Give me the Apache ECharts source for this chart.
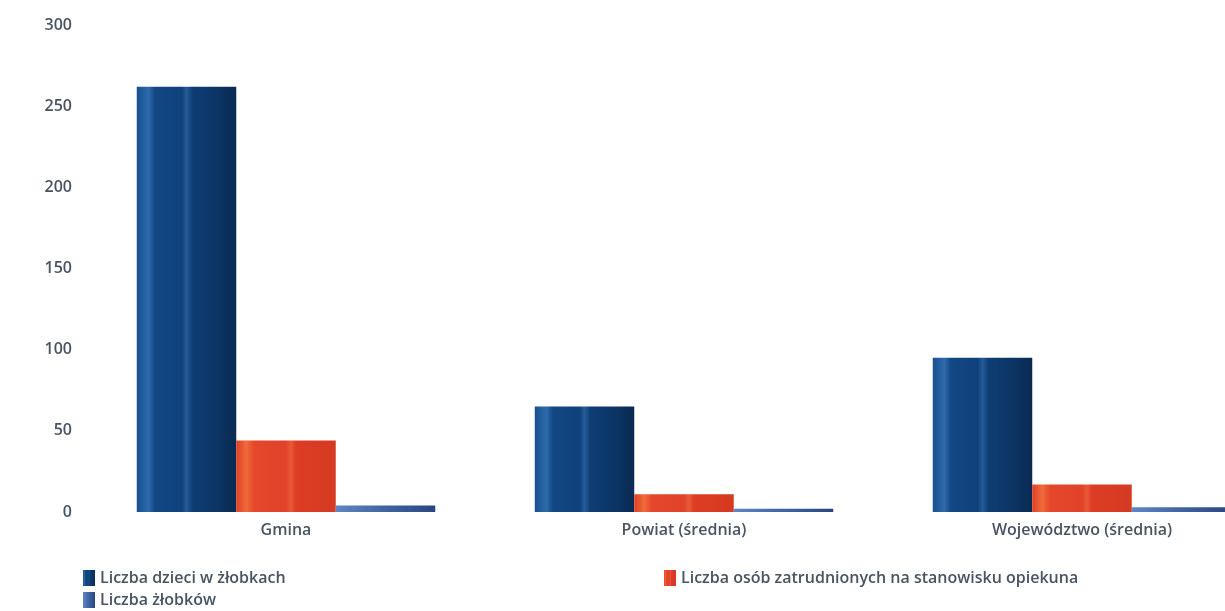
<!DOCTYPE html>
<html>
<head>
<meta charset="utf-8">
<script src="https://cdn.jsdelivr.net/npm/echarts@6/dist/echarts.min.js"></script>
<style>
  html, body { margin: 0; padding: 0; background: #fff; }
  #chart { width: 1225px; height: 611px; }
</style>
</head>
<body>
<div id="chart"></div>
<script>
const categories = ['Gmina', 'Powiat (średnia)', 'Województwo (średnia)']
const seriesNames = [
  'Liczba dzieci w żłobkach',
  'Liczba osób zatrudnionych na stanowisku opiekuna',
  'Liczba żłobków',
]
const childrenValues = [262, 65, 95]
const staffValues = [44, 11, 17]
const nurseryValues = [4, 2, 3]

const textColor = '#485462'
const fontFamily = '"Open Sans", Lato, sans-serif'
const fontWeight = 600

// vertical stripes to mimic the shaded bars
const stripes = (stops) =>
  new echarts.graphic.LinearGradient(0, 0, 1, 0, stops.map(([offset, color]) => ({ offset, color })))

const darkFill = stripes([
  [0, '#17508f'], [0.12, '#2f6aab'], [0.18, '#134884'], [0.45, '#0f417b'],
  [0.5, '#255b97'], [0.56, '#0e3d74'], [0.8, '#0c3565'], [1, '#0a2a52'],
])
const redFill = stripes([
  [0, '#de3f22'], [0.1, '#f06b3d'], [0.18, '#e4472a'], [0.5, '#e0432a'],
  [0.55, '#ea5a36'], [0.6, '#dc3d24'], [1, '#d63a22'],
])
const lightFill = stripes([
  [0, '#5f86c4'], [0.5, '#3f63a3'], [1, '#2a4682'],
])

const legendItem = (name, left, top) => ({
  data: [name],
  left,
  top,
  itemWidth: 12,
  itemHeight: 16,
  icon: 'rect',
  padding: 0,
  textStyle: { color: textColor, fontSize: 16, fontFamily, fontWeight },
})

const chart = echarts.init(document.getElementById('chart'))

const option = {
  animation: false,
  grid: {
    left: 87,
    top: 25,
    width: 1194,
    height: 487,
    outerBoundsMode: 'none',
    containLabel: false,
  },
  legend: [
    legendItem(seriesNames[0], 83, 570),
    legendItem(seriesNames[2], 83, 592),
    legendItem(seriesNames[1], 664, 570),
  ],
  xAxis: {
    type: 'category',
    data: categories,
    axisLine: { show: false },
    axisTick: { show: false },
    axisLabel: {
      color: textColor,
      fontSize: 16,
      fontFamily,
      fontWeight,
      margin: 10,
    },
  },
  yAxis: {
    type: 'value',
    min: 0,
    max: 300,
    interval: 50,
    splitLine: { show: false },
    axisLine: { show: false },
    axisTick: { show: false },
    axisLabel: {
      color: textColor,
      fontSize: 16,
      fontFamily,
      fontWeight,
      margin: 15,
    },
  },
  series: [
    {
      name: seriesNames[0],
      type: 'bar',
      data: childrenValues,
      barGap: '0%',
      barCategoryGap: '25%',
      itemStyle: { color: darkFill },
    },
    {
      name: seriesNames[1],
      type: 'bar',
      data: staffValues,
      itemStyle: { color: redFill },
    },
    {
      name: seriesNames[2],
      type: 'bar',
      data: nurseryValues,
      itemStyle: { color: lightFill },
    },
  ],
}

chart.setOption(option)
</script>
</body>
</html>
